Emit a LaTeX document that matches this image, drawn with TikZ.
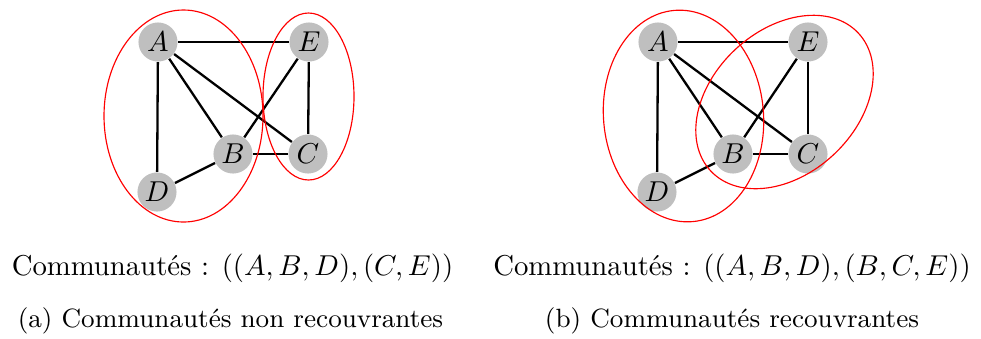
\documentclass[tikz,border=0pt]{standalone}
\begin{document}
\begin{tikzpicture}[x=0.348pt,y=-0.348pt,
  vert/.style={circle,fill=black!25,inner sep=0pt,minimum size=13.6pt},
  edge/.style={draw,thick},
  comm/.style={draw=red,line width=0.4pt},
  lbl/.style={anchor=base,inner sep=0pt},
  captext/.style={anchor=base,inner sep=0pt,font=\fontsize{9.2pt}{11pt}\selectfont}]
\useasboundingbox (0,0) rectangle (981,338);
% left graph
\node[vert] (A1) at (158,42) {$A$};
\node[vert] (E1) at (309,42) {$E$};
\node[vert] (B1) at (233,154) {$B$};
\node[vert] (C1) at (308,154) {$C$};
\node[vert] (D1) at (157,192) {$D$};
\foreach \u/\v in {A1/E1,A1/D1,A1/B1,A1/C1,E1/B1,E1/C1,B1/C1,B1/D1}
  \draw[edge] (\u) -- (\v);
\draw[comm] (183.5,116) ellipse [x radius=79.5, y radius=106];
\draw[comm] (308.5,96.5) ellipse [x radius=45.5, y radius=83.5];
% right graph
\node[vert] (A2) at (658,42) {$A$};
\node[vert] (E2) at (808,42) {$E$};
\node[vert] (B2) at (733,154) {$B$};
\node[vert] (C2) at (808,154) {$C$};
\node[vert] (D2) at (657,192) {$D$};
\foreach \u/\v in {A2/E2,A2/D2,A2/B2,A2/C2,E2/B2,E2/C2,B2/C2,B2/D2}
  \draw[edge] (\u) -- (\v);
\draw[comm,rotate around={5:(683.5,116)}] (683.5,116) ellipse [x radius=80, y radius=106];
\draw[comm,rotate around={43:(784.5,102)}] (784.5,102) ellipse [x radius=101, y radius=72];
% texts
\node[lbl] (t1) at (232.5,275) {Communautés : $((A,B,D),(C,E))$};
\node[captext] (c1) at (230.5,327.7) {(a) Communautés non recouvrantes};
\node[lbl] (t2) at (732,275) {Communautés : $((A,B,D),(B,C,E))$};
\node[captext] (c2) at (732,327.7) {(b) Communautés recouvrantes};
\end{tikzpicture}
\end{document}
